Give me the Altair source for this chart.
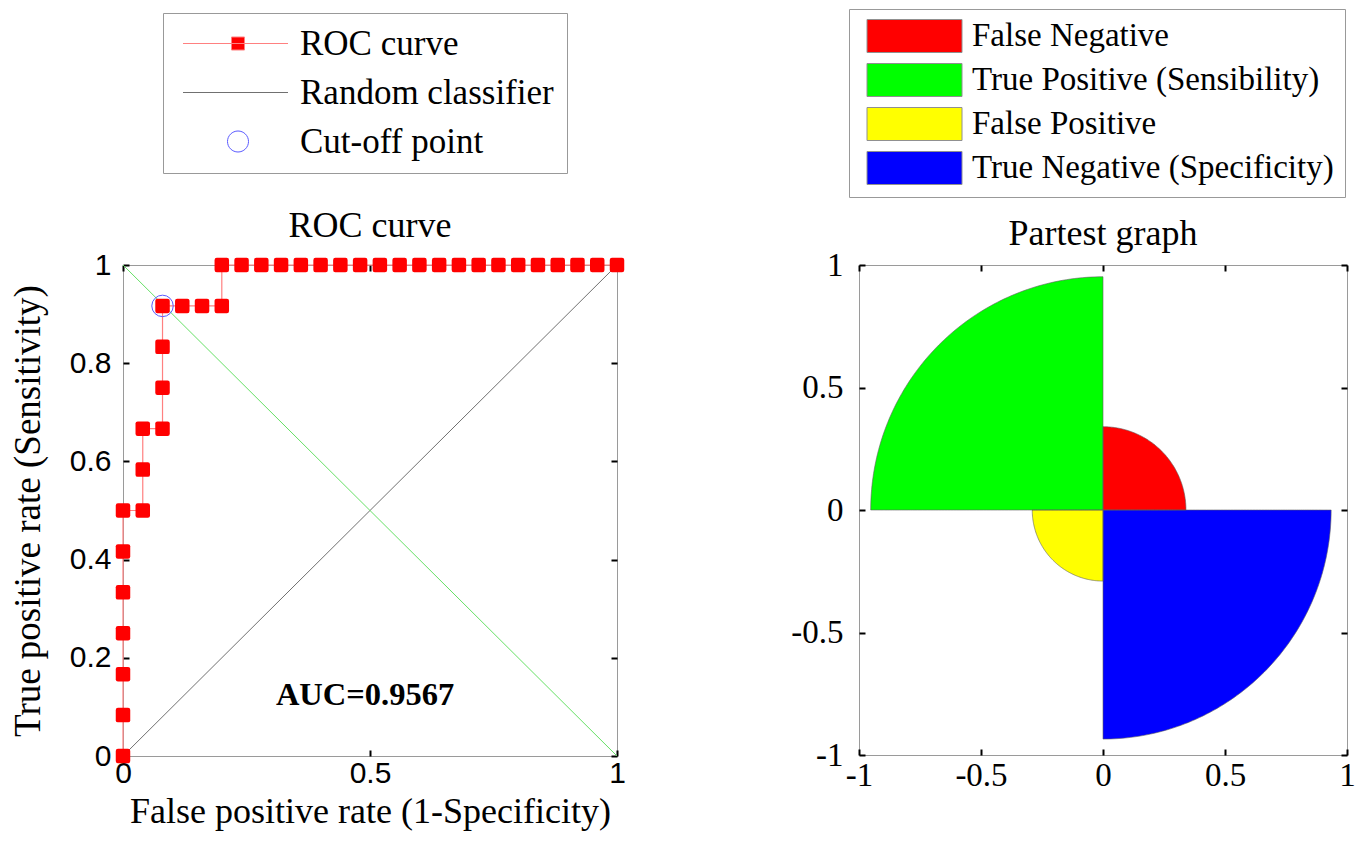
import altair as alt
import pandas as pd

# ---------------- data ----------------
roc_fpr = [0, 0, 0, 0, 0, 0, 0, 0.04, 0.04, 0.04, 0.08, 0.08, 0.08, 0.08, 0.12, 0.16, 0.20,
           0.20, 0.24, 0.28, 0.32, 0.36, 0.40, 0.44, 0.48, 0.52, 0.56, 0.60, 0.64, 0.68,
           0.72, 0.76, 0.80, 0.84, 0.88, 0.92, 0.96, 1.00]
roc_tpr = [0, 0.0833, 0.1667, 0.25, 0.3333, 0.4167, 0.5, 0.5, 0.5833, 0.6667, 0.6667,
           0.75, 0.8333, 0.9167, 0.9167, 0.9167, 0.9167,
           1, 1, 1, 1, 1, 1, 1, 1, 1, 1, 1, 1, 1, 1, 1, 1, 1, 1, 1, 1, 1]
cutoff_fpr = [0.08]
cutoff_tpr = [0.9167]
random_x = [0, 1]
random_y = [0, 1]
diag2_x = [0, 1]
diag2_y = [1, 0]
auc_text = ["AUC=0.9567"]
auc_x = [0.49]
auc_y = [0.125]
roc_legend = ["ROC curve", "Random classifier", "Cut-off point"]

quad_names = ["False Negative", "True Positive (Sensibility)", "False Positive",
              "True Negative (Specificity)"]
quad_radius = [0.34, 0.952, 0.29, 0.935]
quad_start_deg = [0, 90, 180, 270]
quad_colors = ["#ff0000", "#00ff00", "#ffff00", "#0000ff"]

SERIF = "Liberation Serif"
SANS = "Liberation Sans"


def mk_axis(orient, values, labels=True, title=None, font=SANS, size=30, pad=8,
            expr=None, tfont=SERIF, tsize=36, tpad=10):
    kw = dict(orient=orient, values=values, labels=labels, domain=False, grid=False,
              ticks=True, tickSize=6, tickWidth=2, tickColor="black", offset=-6,
              labelFont=font, labelFontSize=size, labelColor="black", labelPadding=pad,
              labelOverlap=False, labelFlush=False)
    if expr is not None:
        kw["labelExpr"] = expr
    else:
        kw["format"] = ".1~f"
    if title is not None:
        kw.update(title=title, titleFont=tfont, titleFontSize=tsize, titleFontWeight="normal",
                  titleColor="black", titlePadding=tpad)
    else:
        kw["title"] = None
    return alt.Axis(**kw)


# ---------------- ROC panel ----------------
W1, H1 = 494, 491
sx = alt.Scale(domain=[0, 1], nice=False, zero=False)
sy = alt.Scale(domain=[0, 1], nice=False, zero=False)

roc_df = pd.DataFrame({"fpr": roc_fpr, "tpr": roc_tpr, "i": list(range(len(roc_fpr)))})
rnd_df = pd.DataFrame({"x": random_x, "y": random_y})
d2_df = pd.DataFrame({"x": diag2_x, "y": diag2_y})
cut_df = pd.DataFrame({"x": cutoff_fpr, "y": cutoff_tpr})
auc_df = pd.DataFrame({"x": auc_x, "y": auc_y, "t": auc_text})

rnd = alt.Chart(rnd_df).mark_line(color="#707070", strokeWidth=1).encode(
    x=alt.X("x:Q", scale=sx, axis=mk_axis("bottom", [0, 0.5, 1], pad=2,
                                            title="False positive rate (1-Specificity)", tpad=6)),
    y=alt.Y("y:Q", scale=sy, axis=mk_axis("left", [0, 0.2, 0.4, 0.6, 0.8, 1], pad=12,
                                            title="True positive rate (Sensitivity)", tsize=37, tpad=22)),
)
d2 = alt.Chart(d2_df).mark_line(color="#66e066", strokeWidth=1).encode(
    x=alt.X("x:Q", scale=sx, axis=mk_axis("top", [0, 0.5, 1], labels=False)),
    y=alt.Y("y:Q", scale=sy, axis=mk_axis("right", [0, 0.2, 0.4, 0.6, 0.8, 1], labels=False)),
)
roc_line = alt.Chart(roc_df).mark_line(color="#ff8080", strokeWidth=1.2).encode(
    x=alt.X("fpr:Q", scale=sx, axis=None),
    y=alt.Y("tpr:Q", scale=sy, axis=None),
    order="i:Q",
)
rounded_sq = "M-0.7,-1H0.7Q1,-1 1,-0.7V0.7Q1,1 0.7,1H-0.7Q-1,1 -1,0.7V-0.7Q-1,-1 -0.7,-1Z"
roc_pts = alt.Chart(roc_df).mark_point(shape=rounded_sq, filled=True, color="#ff0000",
                                       size=210, opacity=1).encode(
    x=alt.X("fpr:Q", scale=sx, axis=None),
    y=alt.Y("tpr:Q", scale=sy, axis=None),
)
cut = alt.Chart(cut_df).mark_point(shape="circle", filled=False, color="#5a5aff",
                                   size=460, strokeWidth=1, opacity=1).encode(
    x=alt.X("x:Q", scale=sx, axis=None),
    y=alt.Y("y:Q", scale=sy, axis=None),
)
auc = alt.Chart(auc_df).mark_text(font=SERIF, fontSize=32.5, fontWeight="bold", color="black").encode(
    x=alt.X("x:Q", scale=sx, axis=None),
    y=alt.Y("y:Q", scale=sy, axis=None),
    text="t:N",
)

roc_paths = [
    "M-1.05,0H9.45M3.8,-0.65H5.1V0.65H3.8Z",
    "M-1.05,0H9.45",
    "M5.5,0A1.05,1.05 0 1,1 3.4,0A1.05,1.05 0 1,1 5.5,0Z",
]
L1 = alt.Legend(orient="none", legendX=40, legendY=-252, title=None, direction="vertical",
                labelFont=SERIF, labelFontSize=35, labelColor="black", labelLimit=800,
                labelOffset=89, symbolSize=400, symbolStrokeWidth=1, rowPadding=13,
                padding=13, strokeColor="#999999", fillColor="white")
leg1_df = pd.DataFrame({"entry": roc_legend})
leg1 = alt.Chart(leg1_df).transform_filter("false").mark_point(size=400, strokeWidth=1, opacity=1).encode(
    shape=alt.Shape("entry:N", scale=alt.Scale(domain=roc_legend, range=roc_paths), legend=L1),
    fill=alt.Fill("entry:N", scale=alt.Scale(domain=roc_legend,
                                             range=["#ff0000", "transparent", "transparent"]), legend=L1),
    stroke=alt.Stroke("entry:N", scale=alt.Scale(domain=roc_legend,
                                                 range=["#ff8080", "#707070", "#5a5aff"]), legend=L1),
)

left = alt.layer(rnd, d2, roc_line, roc_pts, cut, auc, leg1).resolve_axis(
    x="independent", y="independent"
).properties(
    width=W1, height=H1,
    title=alt.TitleParams("ROC curve", font=SERIF, fontSize=36, fontWeight="normal",
                          color="black", offset=18, dy=250, frame="group", anchor="middle"),
)

# ---------------- Partest panel ----------------
W2, H2 = 488, 490
px = alt.Scale(domain=[-1, 1], nice=False, zero=False)
py = alt.Scale(domain=[-1, 1], nice=False, zero=False)
pm_expr = "datum.value < 0 ? '-' + format(-datum.value, '.1~f') : format(datum.value, '.1~f')"
tick_vals = [-1, -0.5, 0, 0.5, 1]

quad_df = pd.DataFrame({"name": quad_names, "r": quad_radius, "a0": quad_start_deg,
                        "col": quad_colors})
quad_base = alt.Chart(quad_df).transform_calculate(
    k="sequence(0, 91)"
).transform_flatten(["k"]).transform_calculate(
    t="(datum.a0 + datum.k) * PI / 180"
).transform_calculate(
    qx="datum.r * cos(datum.t)", qy="datum.r * sin(datum.t)"
)

quad_fill = quad_base.mark_area(opacity=1).encode(
    x=alt.X("qx:Q", scale=px, axis=mk_axis("bottom", tick_vals, font=SERIF, size=33, pad=4, expr=pm_expr)),
    y=alt.Y("qy:Q", scale=py, stack=None,
            axis=mk_axis("left", tick_vals, font=SERIF, size=33, pad=16, expr=pm_expr)),
    y2=alt.datum(0),
    color=alt.Color("col:N", scale=None),
    detail="name:N",
)
quad_edge = quad_base.mark_area(fillOpacity=0, stroke="#606060", strokeWidth=0.6).encode(
    x=alt.X("qx:Q", scale=px, axis=mk_axis("top", tick_vals, labels=False)),
    y=alt.Y("qy:Q", scale=py, stack=None, axis=mk_axis("right", tick_vals, labels=False)),
    y2=alt.datum(0),
    detail="name:N",
)

rect_path = "M-0.9,-1.65H8.6V1.65H-0.9Z"
L2 = alt.Legend(orient="none", legendX=-10, legendY=-256, title=None, direction="vertical",
                labelFont=SERIF, labelFontSize=33, labelColor="black", labelLimit=800,
                labelOffset=79.5, symbolSize=400, symbolStrokeWidth=1, rowPadding=7,
                padding=10.5, strokeColor="#999999", fillColor="white")
leg2_df = pd.DataFrame({"entry": quad_names})
leg2 = alt.Chart(leg2_df).transform_filter("false").mark_point(size=400, strokeWidth=1, opacity=1).encode(
    shape=alt.Shape("entry:N", scale=alt.Scale(domain=quad_names, range=[rect_path] * 4), legend=L2),
    fill=alt.Fill("entry:N", scale=alt.Scale(domain=quad_names, range=quad_colors), legend=L2),
    stroke=alt.Stroke("entry:N", scale=alt.Scale(domain=quad_names, range=["#909090"] * 4), legend=L2),
)

right = alt.layer(quad_fill, quad_edge, leg2).resolve_axis(
    x="independent", y="independent"
).properties(
    width=W2, height=H2,
    title=alt.TitleParams("Partest graph", font=SERIF, fontSize=36, fontWeight="normal",
                          color="black", offset=12, dy=256, frame="group", anchor="middle"),
)

chart = alt.hconcat(left, right, spacing=164).resolve_scale(
    shape="independent", fill="independent", stroke="independent"
).resolve_legend(
    shape="independent", fill="independent", stroke="independent"
).configure_view(
    stroke="#9a9a9a", strokeWidth=1
).properties(
    padding={"left": 0, "top": 0, "right": 0, "bottom": 5},
    background="white",
)

chart.save("out.html", embed_options={"renderer": "svg", "actions": False})
